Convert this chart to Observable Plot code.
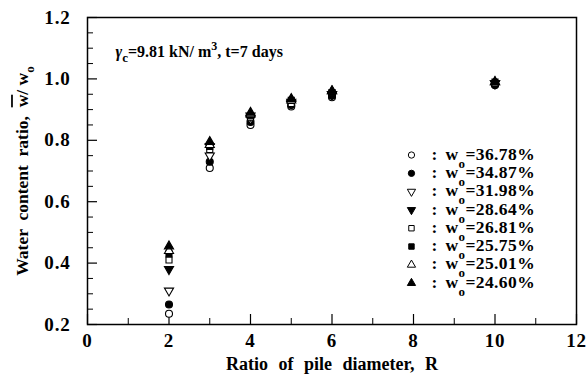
<!DOCTYPE html>
<html>
<head>
<meta charset="utf-8">
<script src="https://cdn.jsdelivr.net/npm/d3@7"></script>
<script src="https://cdn.jsdelivr.net/npm/@observablehq/plot@0.6"></script>
<style>
  body { margin: 0; background: #fff; }
  svg text { font-family: "Liberation Serif", "Times New Roman", serif; font-weight: bold; }
</style>
</head>
<body>
<div id="chart"></div>
<script>
// Ratio of pile diameter R at which the water content was measured
const ratioR = [2, 3, 4, 5, 6, 10];

// Initial water contents w0 (%) of the eight test series
const w0Labels = ["36.78", "34.87", "31.98", "28.64", "26.81", "25.75", "25.01", "24.60"];

// Water content ratio (mean w / w0) for each series, in the order of ratioR
const ratio3678 = [0.235, 0.71, 0.85, 0.910, 0.940, 0.980];
const ratio3487 = [0.265, 0.73, 0.86, 0.915, 0.945, 0.980];
const ratio3198 = [0.310, 0.75, 0.87, 0.920, 0.950, 0.985];
const ratio2864 = [0.380, 0.78, 0.88, 0.925, 0.950, 0.985];
const ratio2681 = [0.410, 0.77, 0.875, 0.920, 0.955, 0.985];
const ratio2575 = [0.430, 0.78, 0.88, 0.930, 0.955, 0.990];
const ratio2501 = [0.440, 0.785, 0.885, 0.930, 0.960, 0.990];
const ratio2460 = [0.455, 0.795, 0.89, 0.935, 0.960, 0.990];
const seriesValues = [ratio3678, ratio3487, ratio3198, ratio2864, ratio2681, ratio2575, ratio2501, ratio2460];

// Axis ticks
const xMajor = [0, 2, 4, 6, 8, 10, 12];
const xMinor = [1, 3, 5, 7, 9, 11];
const yMajor = [0.2, 0.4, 0.6, 0.8, 1.0, 1.2];
const yMinor = [0.25, 0.3, 0.35, 0.45, 0.5, 0.55, 0.65, 0.7, 0.75, 0.85, 0.9, 0.95, 1.05, 1.1, 1.15];

// Downward-pointing triangle (mirror of d3.symbolTriangle)
const sqrt3 = Math.sqrt(3);
const triangleDown = {
  draw(context, size) {
    const y = -Math.sqrt(size / (sqrt3 * 3));
    context.moveTo(0, -y * 2);
    context.lineTo(-sqrt3 * y, y);
    context.lineTo(sqrt3 * y, y);
    context.closePath();
  }
};

// Marker style per series: open / filled circle, down triangle, square, up triangle
const markerShapes = ["circle", "circle", triangleDown, triangleDown, "square", "square", "triangle", "triangle"];
const markerFilled = [false, true, false, true, false, true, false, true];
const markerRadius = [3.5, 3.5, 3.4, 3.4, 3.4, 3.4, 3.4, 3.4];

const rows = seriesValues.map((vals, s) => vals.map((v, j) => ({R: ratioR[j], ratio: v, s})));
const legendRows = w0Labels.map((w, i) => ({w, i}));
const legendY = i => 0.752 - i * 0.0596;
const legendX = 7.95;

const dotMarks = rows.map((data, s) => Plot.dot(data, {
  x: "R", y: "ratio",
  symbol: markerShapes[s],
  r: markerRadius[s],
  fill: markerFilled[s] ? "black" : "white",
  stroke: "black",
  strokeWidth: 1.1
}));

const legendMarks = legendRows.map(d => Plot.dot([d], {
  x: () => legendX, y: dd => legendY(dd.i),
  symbol: markerShapes[d.i],
  r: markerRadius[d.i] * 0.9,
  fill: markerFilled[d.i] ? "black" : "white",
  stroke: "black",
  strokeWidth: 1
}));

const chart = Plot.plot({
  width: 588,
  height: 380,
  marginLeft: 87,
  marginRight: 12,
  marginTop: 17,
  marginBottom: 56,
  style: {fontFamily: "Liberation Serif", fontSize: "19px", fontWeight: "bold", color: "black", background: "white"},
  x: {domain: [0, 12]},
  y: {domain: [0.2, 1.2]},
  marks: [
    Plot.frame({stroke: "black", strokeWidth: 1.5}),
    Plot.axisX({ticks: xMajor, tickSize: -10, tickPadding: 19, tickFormat: d => String(d), label: null, strokeWidth: 1.2}),
    Plot.axisX({ticks: xMinor, tickSize: -6, tickFormat: () => "", label: null, strokeWidth: 1}),
    Plot.axisY({ticks: yMajor, tickSize: -10, tickPadding: 27, tickFormat: d3.format(".1f"), label: null, strokeWidth: 1.2}),
    Plot.axisY({ticks: yMinor, tickSize: -6, tickFormat: () => "", label: null, strokeWidth: 1}),
    ...dotMarks,
    ...legendMarks,
    Plot.text(legendRows, {
      x: () => legendX, y: d => legendY(d.i),
      text: d => `: w0=${d.w}%`,
      textAnchor: "start", dx: 20, dy: -1,
      fontSize: 17.5
    }),
    Plot.text(["γc=9.81 kN/ m3, t=7 days"], {
      frameAnchor: "top-left", dx: 28, dy: 28, textAnchor: "start",
      fontSize: 16
    }),
    Plot.text(["Ratio of pile diameter, R"], {
      frameAnchor: "bottom", dy: 45, fontSize: 18
    }),
    Plot.text(["Water content ratio, w/ w0"], {
      frameAnchor: "left", dx: -65, rotate: -90, textAnchor: "middle", fontSize: 17.5
    })
  ]
});

document.getElementById("chart").appendChild(chart);

// Rich text: subscripts, superscripts, overbar and italics inside single text nodes
function rich(textNode, parts) {
  const t = d3.select(textNode);
  t.text(null);
  let shift = 0;
  for (const p of parts) {
    const span = t.append("tspan").text(p.t);
    const target = p.sub ? p.sub : (p.sup ? -p.sup : 0);
    if (target !== shift) { span.attr("dy", target - shift); shift = target; }
    if (p.size) span.attr("font-size", p.size);
    if (p.italic) span.attr("font-style", "italic");
    if (p.over) span.style("text-decoration", "overline");
  }
}

const svg = d3.select(chart);
svg.selectAll("text").each(function() {
  const s = this.textContent;
  const legendMatch = s.match(/^: w0=(.*)$/);
  if (legendMatch) {
    rich(this, [{t: ": w"}, {t: "o", sub: 8, size: 13}, {t: `=${legendMatch[1]}`}]);
    d3.select(this).style("word-spacing", "3px").style("letter-spacing", "0.4px");
  } else if (s.startsWith("γc=")) {
    rich(this, [
      {t: "γ", italic: true},
      {t: "c", sub: 5, size: 13},
      {t: "=9.81 kN/ m"},
      {t: "3", sup: 7, size: 12},
      {t: ", t=7 days"}
    ]);
  } else if (s.startsWith("Water content")) {
    rich(this, [
      {t: "Water  content  ratio,  "},
      {t: "w", over: true},
      {t: "/ w"},
      {t: "o", sub: 6, size: 13}
    ]);
  } else if (s.startsWith("Ratio of")) {
    d3.select(this).style("word-spacing", "6px");
  } else if (/^[0-9.]+$/.test(s)) {
    d3.select(this).style("letter-spacing", "0.8px");
  }
});
</script>
</body>
</html>
